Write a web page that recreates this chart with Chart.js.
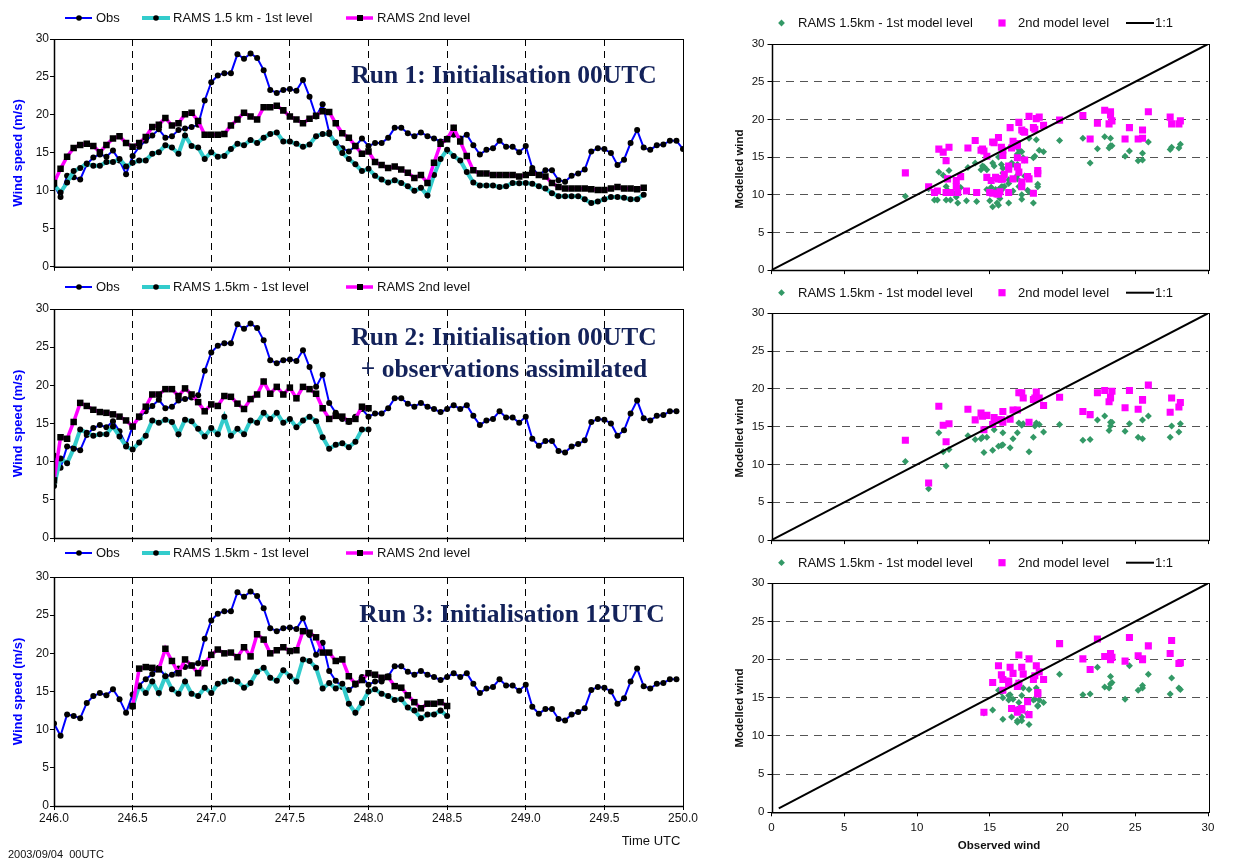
<!DOCTYPE html>
<html>
<head>
<meta charset="utf-8">
<script src="https://cdn.jsdelivr.net/npm/chart.js@4/dist/chart.umd.min.js"></script>
<style>
  html, body { margin: 0; padding: 0; background: #fff; }
  body { width: 1253px; height: 861px; position: relative; overflow: hidden; }
  canvas { position: absolute; }
</style>
</head>
<body>
<canvas id="run1Line" width="700" height="275" style="left:0;top:0"></canvas>
<canvas id="run2Line" width="700" height="278" style="left:0;top:272px"></canvas>
<canvas id="run3Line" width="700" height="321" style="left:0;top:540px"></canvas>
<canvas id="run1Scatter" width="553" height="280" style="left:700px;top:0"></canvas>
<canvas id="run2Scatter" width="553" height="270" style="left:700px;top:280px"></canvas>
<canvas id="run3Scatter" width="553" height="311" style="left:700px;top:550px"></canvas>
<script>
// ---- Hourly wind speed (m/s), day-of-year 246.0 onwards (2003/09/04 00UTC) ----
const START_DAY = 246.0;
const HOURS_PER_DAY = 24;

const obsWind = [
  10.8, 9.2, 12.0, 11.8, 11.5, 13.5, 14.4, 14.8, 14.5, 15.3, 14.0, 12.2,
  14.6, 15.8, 16.6, 17.3, 18.1, 17.0, 17.2, 18.0, 18.2, 18.4, 18.7, 21.9,
  24.3, 25.2, 25.5, 25.5, 28.0, 27.4, 28.1, 27.5, 25.9, 23.3, 22.9, 23.3,
  23.4, 23.2, 24.6, 22.4, 19.8, 21.4, 17.7, 16.4, 15.6, 15.2, 15.9, 16.9,
  15.9, 16.3, 16.3, 17.0, 18.3, 18.3, 17.6, 17.2, 17.7, 17.2, 16.9, 16.5,
  16.9, 17.4, 16.9, 17.4, 16.0, 14.8, 15.4, 15.6, 16.6, 15.8, 15.8, 15.1,
  15.9, 13.0, 12.1, 12.7, 12.7, 11.4, 11.2, 12.0, 12.3, 12.8, 15.2, 15.6,
  15.5, 15.0, 13.4, 14.1, 16.3, 18.0, 15.7, 15.4, 16.0, 16.1, 16.6, 16.6, 15.5
];

// Run 1: initialised 00UTC day 246, starts at hour 0
const run1StartHour = 0;
const run1Level1 = [
  10.8, 9.8, 11.1, 12.6, 13.0, 13.6, 13.3, 13.3, 13.8, 13.8, 14.2, 13.2,
  13.7, 14.0, 14.0, 14.9, 15.1, 16.0, 15.7, 14.9, 17.3, 15.9, 15.7, 14.2,
  15.1, 14.5, 14.6, 15.5, 16.2, 16.0, 16.7, 16.3, 17.0, 17.5, 17.7, 16.5,
  16.5, 16.2, 15.8, 16.1, 17.2, 17.5, 17.5, 16.3, 15.0, 14.2, 13.5, 12.6,
  12.9, 12.0, 11.5, 11.1, 11.4, 11.05, 10.6, 10.0, 10.4, 9.4, 12.1, 14.2,
  15.4, 14.6, 14.0, 12.5, 11.1, 10.7, 10.7, 10.7, 10.5, 10.6, 11.05, 11.0,
  11.05, 10.95, 10.6, 10.3, 9.7, 9.3, 9.3, 9.3, 9.3, 8.9, 8.4, 8.6,
  8.9, 9.2, 9.2, 9.1, 8.9, 8.9, 9.5
];
const run1Level2 = [
  11.05, 12.9, 14.5, 15.65, 16.05, 16.2, 15.9, 15.1, 16.05, 16.9, 17.2, 16.3,
  15.8, 16.3, 17.1, 18.4, 18.7, 19.6, 18.6, 18.9, 20.1, 20.3, 19.2, 17.4,
  17.4, 17.4, 17.5, 18.6, 19.4, 20.3, 19.8, 19.4, 21.0, 21.0, 21.2, 20.6,
  19.8, 19.4, 18.9, 19.5, 19.9, 20.5, 20.4, 18.9, 17.6, 17.0, 15.9, 14.9,
  15.2, 13.8, 13.4, 13.0, 13.2, 12.8, 12.4, 11.7, 12.1, 11.05, 13.7, 16.2,
  16.8, 18.3, 16.5, 14.6, 12.7, 12.3, 12.3, 12.1, 12.1, 12.1, 12.1, 11.9,
  12.1, 12.4, 12.1, 11.9, 11.05, 10.5, 10.3, 10.3, 10.3, 10.3, 10.2, 10.1,
  10.1, 10.3, 10.5, 10.3, 10.3, 10.2, 10.4
];

// Run 2: initialised 00UTC day 246 with observation nudging, hours 0-48
const run2StartHour = 0;
const run2Level1 = [
  6.8, 10.4, 9.8, 11.7, 14.2, 13.8, 13.4, 13.6, 13.6, 14.6, 13.3, 12.0,
  11.6, 12.5, 13.4, 15.4, 15.1, 15.5, 15.2, 13.6, 15.5, 15.3, 14.3, 13.3,
  14.4, 13.6, 15.9, 13.4, 14.3, 13.6, 15.4, 15.1, 16.4, 15.6, 16.4, 15.1,
  15.6, 14.5, 15.4, 15.9, 15.3, 13.2, 11.7, 12.2, 12.4, 11.9, 12.6, 14.2,
  14.2
];
const run2Level2 = [
  7.55, 13.2, 13.0, 15.2, 17.7, 17.3, 16.8, 16.5, 16.4, 16.2, 15.9, 15.4,
  14.6, 15.9, 17.2, 18.8, 18.8, 19.5, 19.5, 18.6, 19.6, 18.8, 17.8, 16.6,
  17.5, 17.3, 18.6, 18.5, 17.6, 16.9, 18.2, 18.8, 20.5, 18.9, 19.8, 18.8,
  19.7, 18.3, 19.8, 19.5, 18.9, 17.0, 15.6, 16.0, 15.9, 15.3, 15.6, 17.2,
  17.0
];

// Run 3: initialised 12UTC day 246, hours 12-60
const run3StartHour = 12;
const run3Level1 = [
  13.0, 15.7, 14.8, 16.3, 14.8, 17.0, 15.3, 14.7, 16.3, 14.7, 14.4, 15.5,
  14.8, 16.0, 16.3, 16.6, 16.3, 15.5, 16.1, 17.6, 18.1, 16.8, 16.4, 17.8,
  17.0, 16.3, 19.2, 19.0, 18.1, 15.4, 16.1, 15.4, 16.0, 13.4, 12.2, 13.5,
  15.0, 15.3, 14.7, 14.4, 13.9, 14.0, 12.9, 12.5, 11.5, 12.0, 12.0, 12.5, 11.8
];
const run3Level2 = [
  13.1, 18.0, 18.2, 18.1, 17.9, 20.6, 19.0, 17.4, 19.2, 18.4, 17.4, 18.7,
  19.8, 20.5, 20.0, 20.1, 19.5, 20.8, 19.6, 22.5, 21.8, 20.0, 20.4, 20.8,
  20.3, 20.4, 22.9, 22.7, 22.1, 20.1, 20.1, 19.0, 19.2, 17.0, 16.0, 16.5,
  17.4, 17.2, 16.8, 16.9, 15.7, 15.5, 14.5, 13.6, 12.8, 13.4, 13.4, 13.6, 13.1
];

const xTickValues = [246.0, 246.5, 247.0, 247.5, 248.0, 248.5, 249.0, 249.5, 250.0];
const windTicks = [0, 5, 10, 15, 20, 25, 30];

// ---- helpers ----
const dayOf = h => START_DAY + h / HOURS_PER_DAY;
function timeSeries(values, startHour) {
  return values.map((v, i) => ({ x: dayOf(startHour + i), y: v }));
}
function pairs(values, startHour) {
  return values.map((v, i) => ({ x: obsWind[startHour + i], y: v }));
}

const SANS = '"Liberation Sans", Arial, sans-serif';
const SERIF = '"Liberation Serif", "Times New Roman", serif';
const BLUE = '#0000FF', TEAL = '#33CCCC', PINK = '#FF00FF', GREEN = '#339966';
const NAVY = '#13225A';

function drawMarker(ctx, style, x, y, r, color) {
  ctx.fillStyle = color;
  ctx.beginPath();
  if (style === 'circle') {
    ctx.arc(x, y, r, 0, Math.PI * 2);
  } else if (style === 'rect') {
    ctx.rect(x - r, y - r, 2 * r, 2 * r);
  } else if (style === 'diamond') {
    ctx.moveTo(x, y - r); ctx.lineTo(x + r, y); ctx.lineTo(x, y + r); ctx.lineTo(x - r, y); ctx.closePath();
  }
  ctx.fill();
}

// Legend entries drawn as line sample + marker + label
const sampleLegend = {
  id: 'sampleLegend',
  afterDraw(chart, args, opts) {
    if (!opts || !opts.items) return;
    const ctx = chart.ctx;
    ctx.save();
    opts.items.forEach(it => {
      if (it.line) {
        ctx.strokeStyle = it.line.color;
        ctx.lineWidth = it.line.width;
        ctx.beginPath();
        ctx.moveTo(it.x0, opts.y);
        ctx.lineTo(it.x1, opts.y);
        ctx.stroke();
      }
      if (it.marker) drawMarker(ctx, it.marker.style, it.mx, opts.y, it.marker.r, it.marker.color);
      ctx.fillStyle = '#111';
      ctx.font = '13px ' + SANS;
      ctx.textAlign = 'left';
      ctx.textBaseline = 'middle';
      ctx.fillText(it.text, it.tx, opts.y + 0.5);
    });
    ctx.restore();
  }
};

// Free text (run titles, axis titles, notes)
const freeText = {
  id: 'freeText',
  afterDraw(chart, args, opts) {
    if (!opts || !opts.items) return;
    const ctx = chart.ctx;
    opts.items.forEach(t => {
      ctx.save();
      ctx.font = t.font;
      ctx.fillStyle = t.color || '#000';
      ctx.textAlign = t.align || 'center';
      ctx.textBaseline = t.baseline || 'middle';
      ctx.translate(t.x, t.y);
      if (t.rotate) ctx.rotate(t.rotate);
      ctx.fillText(t.text, 0, 0);
      ctx.restore();
    });
  }
};

// Plot-area frame
const plotFrame = {
  id: 'plotFrame',
  afterDatasetsDraw(chart, args, opts) {
    const a = chart.chartArea, ctx = chart.ctx;
    ctx.save();
    ctx.strokeStyle = '#000';
    ctx.lineWidth = 1;
    ctx.strokeRect(Math.round(a.left) + 0.5, Math.round(a.top) + 0.5,
                   Math.round(a.right - a.left), Math.round(a.bottom - a.top));
    ctx.lineWidth = 1.5;
    ctx.beginPath();
    ctx.moveTo(Math.round(a.left) + 0.5, a.top);
    ctx.lineTo(Math.round(a.left) + 0.5, a.bottom + 0.5);
    ctx.lineTo(a.right + 0.5, a.bottom + 0.5);
    ctx.stroke();
    ctx.restore();
  }
};

Chart.register(sampleLegend, freeText, plotFrame);
Chart.defaults.font.family = SANS;
Chart.defaults.color = '#111';
Chart.defaults.animation = false;

const lineLegendItems = (teal) => [
  { x0: 65, x1: 92, mx: 79, tx: 96, text: 'Obs', line: { color: BLUE, width: 2 }, marker: { style: 'circle', r: 2.8, color: '#000' } },
  { x0: 142, x1: 170, mx: 156, tx: 173, text: teal, line: { color: TEAL, width: 4 }, marker: { style: 'circle', r: 2.8, color: '#000' } },
  { x0: 346, x1: 373, mx: 360, tx: 377, text: 'RAMS 2nd level', line: { color: PINK, width: 3.5 }, marker: { style: 'rect', r: 3, color: '#000' } }
];

function lineChart(id, cfg) {
  const datasets = [
    { label: 'Obs', data: timeSeries(cfg.obs, 0), borderColor: BLUE, borderWidth: 2,
      pointStyle: 'circle', pointRadius: 3, pointBackgroundColor: '#000', pointBorderWidth: 0, order: 3 },
    { label: cfg.tealLabel, data: timeSeries(cfg.l1, cfg.start), borderColor: TEAL, borderWidth: 4,
      pointStyle: 'circle', pointRadius: 3, pointBackgroundColor: '#000', pointBorderWidth: 0, order: 2 },
    { label: 'RAMS 2nd level', data: timeSeries(cfg.l2, cfg.start), borderColor: PINK, borderWidth: 3.5,
      pointStyle: 'rect', pointRadius: 4.6, pointBackgroundColor: '#000', pointBorderWidth: 0, order: 1 }
  ];
  return new Chart(document.getElementById(id), {
    type: 'line',
    data: { datasets },
    options: {
      responsive: false,
      devicePixelRatio: 1,
      layout: { padding: { left: 0, right: 17, top: cfg.top, bottom: 0 } },
      elements: { line: { tension: 0 } },
      plugins: {
        legend: { display: false },
        tooltip: { enabled: false },
        sampleLegend: { y: cfg.legendY, items: lineLegendItems(cfg.tealLabel) },
        freeText: { items: cfg.texts }
      },
      scales: {
        x: {
          type: 'linear', min: 246, max: 250,
          afterBuildTicks: s => { s.ticks = xTickValues.map(v => ({ value: v })); },
          afterFit: s => { s.height = cfg.xAxisH; },
          ticks: { display: cfg.showXLabels, padding: 1, maxRotation: 0, autoSkip: false,
                   font: { size: 12 }, color: '#111', callback: v => Number(v).toFixed(1) },
          grid: { display: true, drawOnChartArea: true, color: '#000', lineWidth: 1,
                  tickLength: 4, tickColor: '#000', tickWidth: 1, tickBorderDash: [] },
          border: { display: false, dash: [7, 5] }
        },
        y: {
          min: 0, max: 30,
          afterBuildTicks: s => { s.ticks = windTicks.map(v => ({ value: v })); },
          afterFit: s => { s.width = 54; },
          ticks: { padding: 1, font: { size: 12 }, color: '#111' },
          grid: { drawOnChartArea: false, tickLength: 4, tickColor: '#000' },
          border: { display: false }
        }
      }
    }
  });
}

const yTitle = (cy) => ({ text: 'Wind speed (m/s)', x: 18.5, y: cy, rotate: -Math.PI / 2,
  font: 'bold 13px ' + SANS, color: BLUE });

lineChart('run1Line', {
  obs: obsWind, l1: run1Level1, l2: run1Level2, start: run1StartHour,
  tealLabel: 'RAMS 1.5 km - 1st level', top: 39, xAxisH: 8, legendY: 18, showXLabels: false,
  texts: [
    yTitle(153),
    { text: 'Run 1: Initialisation 00UTC', x: 504, y: 83, baseline: 'alphabetic', font: 'bold 25.5px ' + SERIF, color: NAVY }
  ]
});

lineChart('run2Line', {
  obs: obsWind.slice(0, 96), l1: run2Level1, l2: run2Level2, start: run2StartHour,
  tealLabel: 'RAMS 1.5km - 1st level', top: 37, xAxisH: 12, legendY: 15, showXLabels: false,
  texts: [
    yTitle(151.5),
    { text: 'Run 2: Initialisation 00UTC', x: 504, y: 73, baseline: 'alphabetic', font: 'bold 25.5px ' + SERIF, color: NAVY },
    { text: '+ observations assimilated', x: 504, y: 104.5, baseline: 'alphabetic', font: 'bold 25.5px ' + SERIF, color: NAVY }
  ]
});

lineChart('run3Line', {
  obs: obsWind.slice(0, 96), l1: run3Level1, l2: run3Level2, start: run3StartHour,
  tealLabel: 'RAMS 1.5km - 1st level', top: 37, xAxisH: 55, legendY: 13, showXLabels: true,
  texts: [
    yTitle(151.5),
    { text: 'Run 3: Initialisation 12UTC', x: 512, y: 81.5, baseline: 'alphabetic', font: 'bold 25.5px ' + SERIF, color: NAVY },
    { text: 'Time UTC', x: 651, y: 301.5, font: '13px ' + SANS, color: '#111' },
    { text: '2003/09/04  00UTC', x: 8, y: 315, align: 'left', font: '11px ' + SANS, color: '#111' }
  ]
});

// ---- Modelled vs observed scatter ----
const scatterLegendItems = [
  { mx: 81.5, tx: 98, text: 'RAMS 1.5km - 1st model level', marker: { style: 'diamond', r: 3.4, color: GREEN } },
  { mx: 302, tx: 318, text: '2nd model level', marker: { style: 'rect', r: 3.6, color: PINK } },
  { x0: 426, x1: 454, tx: 455, text: '1:1', line: { color: '#000', width: 2 } }
];

function scatterChart(id, cfg) {
  return new Chart(document.getElementById(id), {
    type: 'scatter',
    data: {
      datasets: [
        { label: 'RAMS 1.5km - 1st model level', data: pairs(cfg.l1, cfg.start),
          pointStyle: 'rectRot', pointRadius: 3.5, backgroundColor: GREEN, borderWidth: 0, order: 3 },
        { label: '2nd model level', data: pairs(cfg.l2, cfg.start),
          pointStyle: 'rect', pointRadius: 5, backgroundColor: PINK, borderWidth: 0, order: 2 },
        { label: '1:1', type: 'line', data: cfg.oneToOne, borderColor: '#000', borderWidth: 2,
          pointRadius: 0, showLine: true, order: 1 }
      ]
    },
    options: {
      responsive: false,
      devicePixelRatio: 1,
      layout: { padding: { left: 0, right: 45, top: cfg.top, bottom: 0 } },
      plugins: {
        legend: { display: false },
        tooltip: { enabled: false },
        sampleLegend: { y: cfg.legendY, items: scatterLegendItems },
        freeText: { items: cfg.texts }
      },
      scales: {
        x: {
          type: 'linear', min: 0, max: 30,
          afterBuildTicks: s => { s.ticks = windTicks.map(v => ({ value: v })); },
          afterFit: s => { s.height = cfg.xAxisH; },
          ticks: { display: cfg.showXLabels, padding: 5, maxRotation: 0, font: { size: 11.5 }, color: '#111' },
          grid: { drawOnChartArea: false, tickLength: 4, tickColor: '#000' },
          border: { display: false }
        },
        y: {
          min: 0, max: 30,
          afterBuildTicks: s => { s.ticks = windTicks.map(v => ({ value: v })); },
          afterFit: s => { s.width = 71.5; },
          ticks: { padding: 3, font: { size: 11.5 }, color: '#111' },
          grid: { drawOnChartArea: true, color: '#555', lineWidth: 1, tickLength: 4,
                  tickColor: '#000', tickBorderDash: [] },
          border: { display: false, dash: [8, 6] }
        }
      }
    }
  });
}

const modelledTitle = (cy) => ({ text: 'Modelled wind', x: 39.5, y: cy, rotate: -Math.PI / 2,
  font: 'bold 11.5px ' + SANS, color: '#111' });

scatterChart('run1Scatter', {
  l1: run1Level1, l2: run1Level2, start: run1StartHour,
  oneToOne: [{ x: 0, y: 0 }, { x: 30, y: 30 }],
  top: 44, xAxisH: 9, legendY: 23, showXLabels: false,
  texts: [modelledTitle(169)]
});

scatterChart('run2Scatter', {
  l1: run2Level1, l2: run2Level2, start: run2StartHour,
  oneToOne: [{ x: 0, y: 0 }, { x: 30, y: 30 }],
  top: 33.3, xAxisH: 8, legendY: 12.7, showXLabels: false,
  texts: [modelledTitle(438 - 280)]
});

scatterChart('run3Scatter', {
  l1: run3Level1, l2: run3Level2, start: run3StartHour,
  oneToOne: [{ x: 0.5, y: 0.5 }, { x: 30, y: 30 }],
  top: 33.3, xAxisH: 48.7, legendY: 12.7, showXLabels: true,
  texts: [
    modelledTitle(708 - 550),
    { text: 'Observed wind', x: 299, y: 295.5, font: 'bold 11.5px ' + SANS, color: '#111' }
  ]
});
</script>
</body>
</html>
